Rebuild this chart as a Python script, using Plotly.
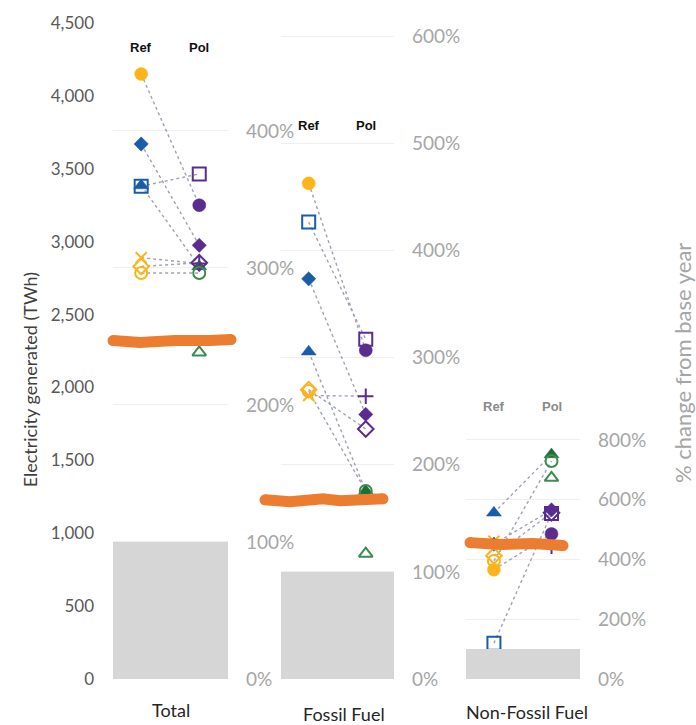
import plotly.graph_objects as go

# ---- data (TWh) -----------------------------------------------------------
panels = ["Total", "Fossil Fuel", "Non-Fossil Fuel"]
base_twh = [940, 735, 205]          # base-year generation (grey bars = 100%)
pct_ticks = [[0, 100, 200, 300, 400],
             [0, 100, 200, 300, 400, 500, 600],
             [0, 200, 400, 600, 800]]

# one entry per model; None = no reference-case value
ref_total = [4150, 3380, 3670, 3385, 2890, 2830, 2785, None]
pol_total = [3250, 3465, 2975, 2830, 2850, 2855, 2785, 2240]
ref_fossil = [3400, 3135, 2745, 2245, 1945, 1985, 1975, None]
pol_fossil = [2255, 2330, 1815, 1290, 1940, 1715, 1290, 860]
ref_nonfossil = [750, 245, 925, 1140, 945, 845, 810, None]
pol_nonfossil = [995, 1135, 1160, 1540, 910, 1140, 1495, 1380]

ref_values = [ref_total, ref_fossil, ref_nonfossil]
pol_values = [pol_total, pol_fossil, pol_nonfossil]

GOLD = "#FBB41A"
BLUE = "#1B5CA8"
PURPLE = "#5B2C8F"
DKGREEN = "#1F6E35"
GREEN = "#3C8C4E"

ref_symbols = ["circle", "square-open", "diamond", "triangle-up",
               "x-thin-open", "diamond-open", "circle-open", None]
ref_colors = [GOLD, BLUE, BLUE, BLUE, GOLD, GOLD, GOLD, None]
pol_symbols = ["circle", "square-open", "diamond", "triangle-up",
               "cross-thin-open", "diamond-open", "circle-open", "triangle-up-open"]
pol_colors = [PURPLE, PURPLE, PURPLE, DKGREEN, PURPLE, PURPLE, GREEN, GREEN]
symbol_size = {"circle": 13, "square-open": 13, "diamond": 11, "triangle-up": 13,
               "x-thin-open": 11, "cross-thin-open": 11, "diamond-open": 12,
               "circle-open": 12, "triangle-up-open": 12}

header_twh = [4330, 3800, 1872]     # height of the "Ref"/"Pol" headers
X_REF, X_POL = 0.245, 0.75

# ---- layout geometry -------------------------------------------------------
W, H = 696, 725
ML, MR, MT, MB = 113, 116, 20, 46
PW = W - ML - MR
domains = [[0, 115 / PW], [168 / PW, 281 / PW], [353 / PW, 1]]
YMAX = 4500

fig = go.Figure()
xnames = ["x", "x2", "x3"]
pnames = ["y2", "y3", "y4"]

for i, xn in enumerate(xnames):
    # base-year bar, drawn on the panel's percentage axis (base year = 100%)
    fig.add_trace(go.Bar(x=[0.5], y=[100], width=[1], xaxis=xn, yaxis=pnames[i],
                         marker=dict(color="#d6d6d6", line=dict(width=0)),
                         hoverinfo="skip"))
    # dotted connectors Ref -> Pol
    lx, ly = [], []
    for r, p in zip(ref_values[i], pol_values[i]):
        if r is None or p is None:
            continue
        lx += [X_REF, X_POL, None]
        ly += [r, p, None]
    fig.add_trace(go.Scatter(x=lx, y=ly, mode="lines", xaxis=xn, yaxis="y",
                             line=dict(color="#9ea2b4", width=1.4, dash="dot"),
                             hoverinfo="skip"))
    # markers
    for vals, syms, cols, xpos in ((ref_values[i], ref_symbols, ref_colors, X_REF),
                                   (pol_values[i], pol_symbols, pol_colors, X_POL)):
        for v, s, c in zip(vals, syms, cols):
            if v is None:
                continue
            fig.add_trace(go.Scatter(
                x=[xpos], y=[v], mode="markers", xaxis=xn, yaxis="y",
                marker=dict(symbol=s, size=symbol_size[s], color=c,
                            line=dict(color=c, width=2 if "open" in s else 0.5))))

layout = dict(
    width=W, height=H, margin=dict(l=ML, r=MR, t=MT, b=MB),
    paper_bgcolor="white", plot_bgcolor="white", showlegend=False,
    font=dict(family="Lato, 'Open Sans', sans-serif"),
    bargap=0,
)
for i, xn in enumerate(xnames):
    key = "xaxis" if i == 0 else f"xaxis{i + 1}"
    layout[key] = dict(domain=domains[i], range=[0, 1], anchor="y", visible=False,
                       fixedrange=True)

layout["yaxis"] = dict(range=[0, YMAX], domain=[0, 1], anchor="x",
                       tickvals=list(range(0, 4501, 500)), tickformat=",",
                       showgrid=False, zeroline=False, showline=False, ticks="",
                       ticklabelstandoff=18,
                       tickfont=dict(size=17, color="#595959"))
for i in range(3):
    layout[f"yaxis{i + 2}"] = dict(
        overlaying="y", anchor=xnames[i], side="right",
        range=[0, YMAX / base_twh[i] * 100], tickmode="array",
        tickvals=pct_ticks[i], ticktext=[f"{v}%" for v in pct_ticks[i]],
        showgrid=True, gridcolor="#efefef", gridwidth=1, zeroline=False,
        showline=False, ticks="", ticklabelstandoff=17,
        tickfont=dict(size=19, color="#a6a6a6"))

fig.update_layout(**layout)

# category labels
label_shift = [(0, -31), (6, -35), (4, -33)]
for i, name in enumerate(panels):
    fig.add_annotation(text=name, xref=f"{xnames[i]} domain", yref="paper",
                       x=0.5, y=0, xshift=label_shift[i][0], yshift=label_shift[i][1],
                       showarrow=False, yanchor="middle",
                       font=dict(size=18, color="#262626"))

# Ref / Pol headers
for i, xn in enumerate(xnames):
    col = "#111111" if i < 2 else "#8a8a8a"
    for txt, xp in (("Ref", X_REF), ("Pol", X_POL)):
        fig.add_annotation(text=f"<b>{txt}</b>", xref=xn, yref="y", x=xp, y=header_twh[i],
                           showarrow=False,
                           font=dict(size=13, color=col,
                                     family="'Liberation Sans Narrow', 'Liberation Sans', sans-serif"))

# axis titles
fig.add_annotation(text="Electricity generated (TWh)", xref="paper", yref="paper",
                   x=0, xshift=-96, y=(H - MB - 379) / (H - MT - MB), textangle=-90,
                   showarrow=False, font=dict(size=18, color="#404040"))
fig.add_annotation(text="% change from base year", xref="paper", yref="paper",
                   x=1, xshift=118, y=(H - MB - 362) / (H - MT - MB), textangle=-90,
                   showarrow=False, font=dict(size=22, color="#a6a6a6"))

# hand-drawn orange strokes across the chart
ORANGE = "#EC7C30"
strokes = [
    [(113, 339), (140, 341), (175, 339), (210, 339), (231, 338)],
    [(265, 499), (290, 501), (323, 498), (340, 500), (383, 498)],
    [(470, 542), (500, 544), (533, 543), (563, 545)],
]


def to_paper(px):
    return (px - ML) / PW


def to_twh(py):
    return (H - MB - py) / (H - MT - MB) * YMAX


for pts in strokes:
    path = "M " + " L ".join(f"{to_paper(x):.4f},{to_twh(y):.1f}" for x, y in pts)
    fig.add_shape(type="path", path=path, xref="paper", yref="y",
                  line=dict(color=ORANGE, width=11), layer="above")
    for x, y in (pts[0], pts[-1]):
        fig.add_shape(type="circle", xref="paper", yref="y",
                      xsizemode="pixel", ysizemode="pixel",
                      xanchor=to_paper(x), yanchor=to_twh(y),
                      x0=-5.5, x1=5.5, y0=-5.5, y1=5.5,
                      fillcolor=ORANGE, line=dict(width=0), layer="above")

fig.write_html("out.html")
